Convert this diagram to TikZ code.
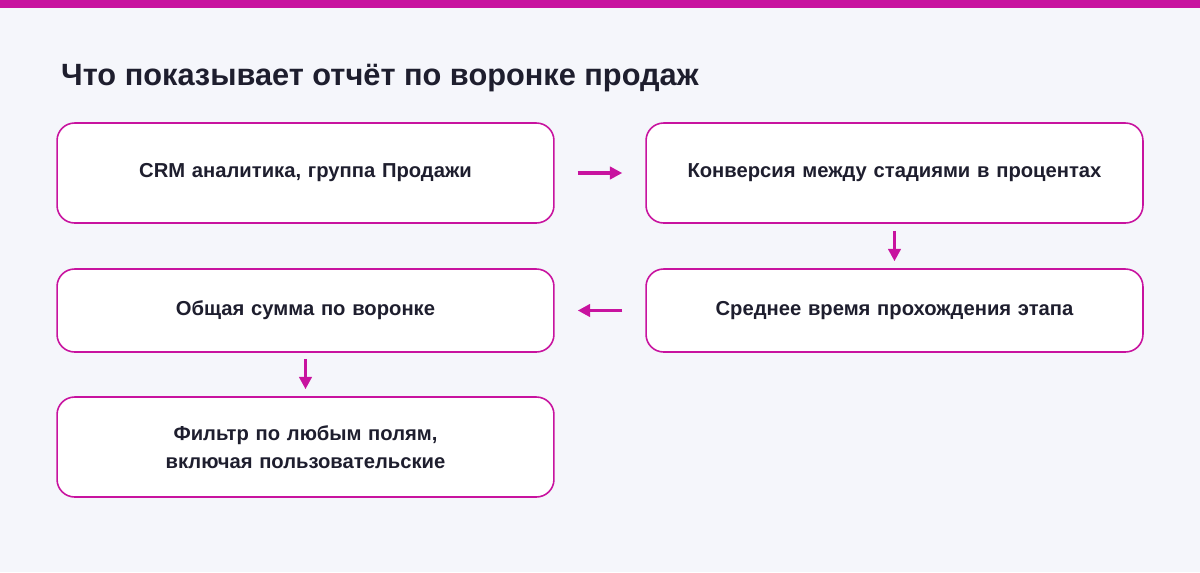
\documentclass[tikz,border=0pt]{standalone}
\usepackage{fontspec}
\setmainfont{Liberation Sans}
\usetikzlibrary{arrows.meta,positioning}
\definecolor{accent}{HTML}{C8139F}
\definecolor{bgpage}{HTML}{F5F6FB}
\definecolor{ink}{HTML}{1E1E2E}
\tikzset{>={Triangle[length=7pt,width=7pt]},
  stage/.style={draw=accent,line width=0.9pt,fill=white,rounded corners=10pt,
    minimum width=9.94cm,text width=9.4cm,align=center,text=ink,
    font=\fontsize{11.5}{16}\selectfont\bfseries},
  flow/.style={->,draw=accent,line width=1.8pt}}
\begin{document}
\begin{tikzpicture}[x=0.02cm,y=-0.02cm]
\useasboundingbox (0,0) rectangle (1200,572);
\fill[bgpage] (0,0) rectangle (1200,572);
\fill[accent] (0,0) rectangle (1200,8);
\node[anchor=west,text=ink,font=\fontsize{17.5}{20}\selectfont\bfseries] (title) at (55,78) {Что показывает отчёт по воронке продаж};
% stages
\node[stage,minimum height=2cm] (crm) at (305.5,173) {CRM аналитика, группа Продажи};
\node[stage,minimum height=2cm] (conv) at (894.5,173) {Конверсия между стадиями в процентах};
\node[stage,minimum height=1.66cm] (time) at (894.5,310.5) {Среднее время прохождения этапа};
\node[stage,minimum height=1.66cm] (sum) at (305.5,310.5) {Общая сумма по воронке};
\node[stage,minimum height=2cm] (filter) at (305.5,447) {Фильтр по любым полям, включая пользовательские};
% arrows
\draw[flow] ([xshift=0.46cm]crm.east) -- ([xshift=-0.46cm]conv.west);
\draw[flow] ([yshift=-0.14cm]conv.south) -- ([yshift=0.14cm]time.north);
\draw[flow] ([xshift=-0.46cm]time.west) -- ([xshift=0.46cm]sum.east);
\draw[flow] ([yshift=-0.12cm]sum.south) -- ([yshift=0.14cm]filter.north);
\end{tikzpicture}
\end{document}
